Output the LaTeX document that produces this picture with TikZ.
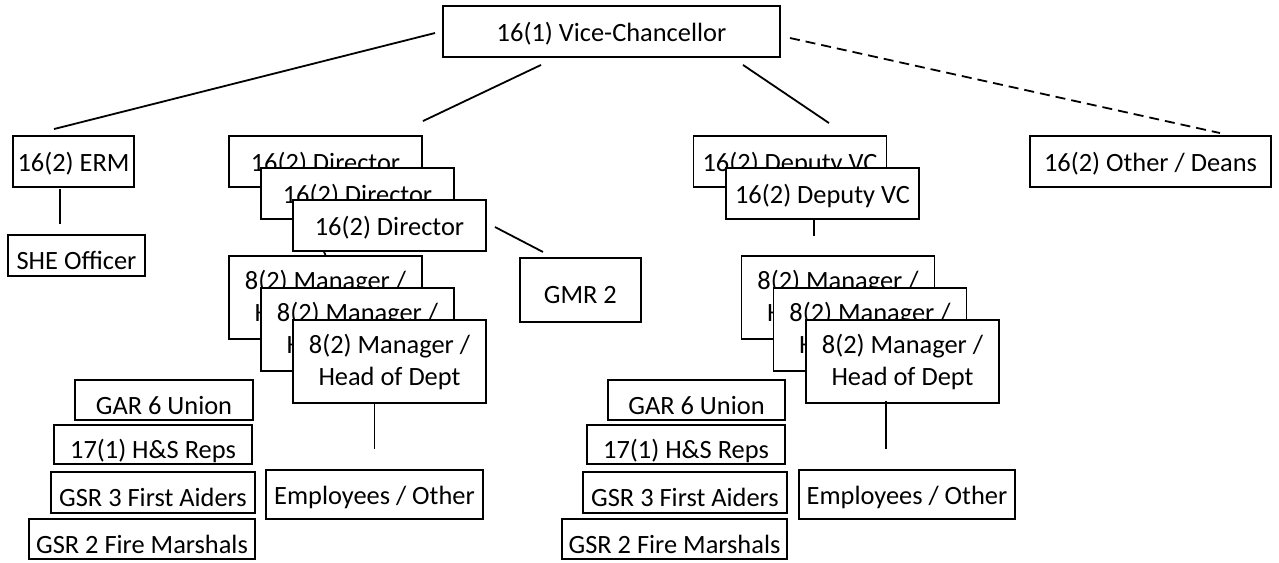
\documentclass[tikz,border=0pt]{standalone}
\usepackage{fontspec}
\setmainfont{Carlito}
\usetikzlibrary{positioning, calc}
\tikzset{
  org/.style={
    rectangle, draw=black, fill=white, line width=1.9pt,
    inner sep=0pt, font=\fontsize{26.4}{32}\selectfont
  },
  post/.style={
    org, minimum height=51pt,
    text height=20pt, text depth=0pt
  },
  rep/.style={
    org, minimum height=40pt,
    text height=28pt, text depth=0pt
  },
  head/.style={
    org, minimum width=193pt, minimum height=83pt, align=center
  },
  link/.style={line width=1.8pt},
  dashlink/.style={link, dash pattern=on 10pt off 6pt},
}
\begin{document}
\begin{tikzpicture}[x=1pt, y=-1pt]
  \useasboundingbox (0,0) rectangle (1279,562);

  \node (vc)    [post, minimum width=337pt] at (611.5,31.5) {16(1) Vice-Chancellor};
  \node (erm)   [post, minimum width=121pt] at (73.5,161.5) {16(2) ERM};
  \node (she)   [rep, minimum width=137pt, minimum height=41pt, below=46pt of erm, xshift=3pt] {SHE Officer};

  \node (dir1)  [post, minimum width=193pt] at (325.5,161.5)     {16(2) Director};
  \node (dir2)  [post, minimum width=193pt] at ($(dir1)+(32,32)$) {16(2) Director};
  \node (dir3)  [post, minimum width=193pt] at ($(dir2)+(32,32)$) {16(2) Director};
  \node (gmr)   [rep, minimum width=121pt, minimum height=64pt, below right=5pt and 32pt of dir3.south east] {GMR 2};
  \node (mgr1)  [head] at (325.5,297.5)     {8(2) Manager /\\Head of Dept};
  \node (mgr2)  [head] at ($(mgr1)+(32,32)$) {8(2) Manager /\\Head of Dept};
  \node (mgr3)  [head] at ($(mgr2)+(32,32)$) {8(2) Manager /\\Head of Dept};
  \node (emp)   [post, minimum width=217pt, minimum height=49pt, below=65pt of mgr3, xshift=-15pt] {Employees / Other};
  \node (gar)   [rep, minimum width=178pt] at (164,400) {GAR 6 Union};
  \node (hsr)   [rep, minimum width=198pt, minimum height=39pt] at (153,444.5) {17(1) H\&S Reps};
  \node (gsr3)  [rep, minimum width=204pt, minimum height=41pt] at (153,492.5) {GSR 3 First Aiders};
  \node (gsr2)  [rep, minimum width=226pt] at (142,539) {GSR 2 Fire Marshals};

  \node (dep1)  [post, minimum width=193pt] at (790,161.5)         {16(2) Deputy VC};
  \node (dep2)  [post, minimum width=193pt] at ($(dep1)+(32.5,32)$) {16(2) Deputy VC};
  \node (deans) [post, minimum width=241pt] at (1150.5,161.5) {16(2) Other / Deans};
  \node (rmgr1) [head] at (838,297.5)         {8(2) Manager /\\Head of Dept};
  \node (rmgr2) [head] at ($(rmgr1)+(32,32)$)   {8(2) Manager /\\Head of Dept};
  \node (rmgr3) [head] at ($(rmgr2)+(32.5,32)$) {8(2) Manager /\\Head of Dept};
  \node (remp)  [post, minimum width=216pt, minimum height=49pt, below=65pt of rmgr3, xshift=4.5pt] {Employees / Other};
  \node (rgar)  [rep, minimum width=177pt] at (696.5,400) {GAR 6 Union};
  \node (rhsr)  [rep, minimum width=198pt, minimum height=39pt] at (686,444.5) {17(1) H\&S Reps};
  \node (rgsr3) [rep, minimum width=204pt, minimum height=41pt] at (685,492.5) {GSR 3 First Aiders};
  \node (rgsr2) [rep, minimum width=225pt] at (674.5,539) {GSR 2 Fire Marshals};

  \draw [link]     ($(vc.west)+(-7,1.5)$)     -- ($(erm.north)+(-19.5,-6)$);
  \draw [link]     ($(vc.south)+(-70.5,7)$)   -- ($(dir1.north east)+(0,-14)$);
  \draw [link]     ($(vc.south)+(131.5,7)$)   -- ($(dep1.north)+(39,-12)$);
  \draw [dashlink] ($(vc.east)+(9,6.5)$)      -- ($(deans.north)+(69.5,-2)$);
  \draw [link]     ($(erm.south)+(-13.5,1)$)  -- ($(she.north)+(-16.5,-10)$);
  \draw [link]     ($(dir3.east)+(8,1.5)$)    -- ($(gmr.north west)+(24,-5)$);
  \draw [link]     ($(dir3.south west)+(32,0)$) -- (mgr1.north);
  \draw [link]     (emp.north |- mgr3.south)  -- ($(emp.north)+(0,-20)$);
  \draw [link]     ($(dep2.south)+(-8.5,0)$)  -- ($(rmgr1.north)+(-24,-19)$);
  \draw [link]     ($(rmgr3.south)+(-16.5,-3)$) -- ($(remp.north)+(-21,-20)$);
\end{tikzpicture}
\end{document}
